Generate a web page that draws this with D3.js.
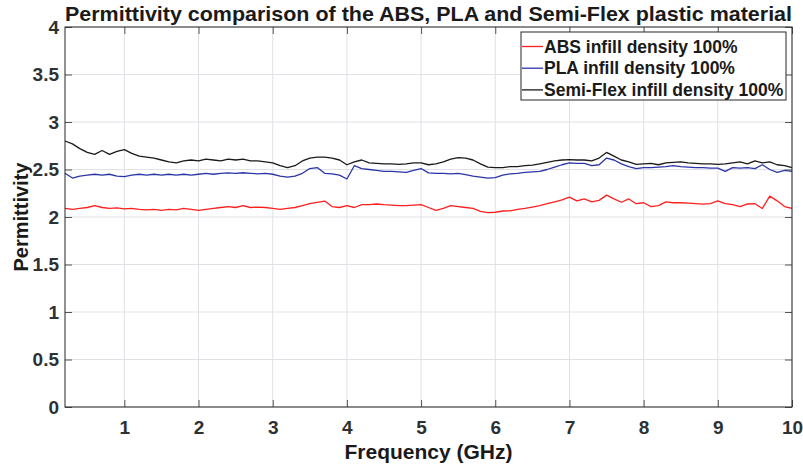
<!DOCTYPE html>
<html>
<head>
<meta charset="utf-8">
<script src="https://cdn.jsdelivr.net/npm/d3@7"></script>
<style>
  body { margin: 0; background: #fff; }
  text { font-family: "Liberation Sans", Arial, sans-serif; font-weight: bold; }
</style>
</head>
<body>
<svg id="chart_svg"></svg>
<script>
const width = 803, height = 467;
const margin = { top: 27, right: 11, bottom: 60, left: 65 };

// frequency samples (GHz), one every 0.1 GHz from 0.2 to 10
const freqs = d3.range(2, 101).map(d => d / 10);

const xTicks = [1, 2, 3, 4, 5, 6, 7, 8, 9, 10];
const yTicks = [0, 0.5, 1, 1.5, 2, 2.5, 3, 3.5, 4];

const seriesNames = ["ABS infill density 100%", "PLA infill density 100%", "Semi-Flex infill density 100%"];
const seriesColors = ["#ff1f1f", "#2b35a8", "#1a1a1a"];

const absValues = [
    2.09, 2.08, 2.09, 2.10, 2.12, 2.10, 2.09, 2.095, 2.085, 2.09,
    2.08, 2.075, 2.08, 2.07, 2.08, 2.075, 2.09, 2.08, 2.07, 2.08,
    2.09, 2.10, 2.11, 2.10, 2.12, 2.10, 2.105, 2.10, 2.09, 2.08,
    2.09, 2.10, 2.12, 2.14, 2.155, 2.168, 2.11, 2.10, 2.12, 2.10,
    2.13, 2.13, 2.137, 2.13, 2.125, 2.12, 2.12, 2.125, 2.13, 2.10,
    2.07, 2.09, 2.12, 2.11, 2.10, 2.09, 2.06, 2.045, 2.05, 2.063,
    2.065, 2.08, 2.09, 2.105, 2.12, 2.14, 2.16, 2.18, 2.21, 2.17,
    2.19, 2.16, 2.175, 2.23, 2.19, 2.155, 2.19, 2.14, 2.15, 2.11,
    2.12, 2.16, 2.15, 2.15, 2.145, 2.14, 2.135, 2.14, 2.17, 2.14,
    2.13, 2.11, 2.137, 2.14, 2.09, 2.22, 2.17, 2.11, 2.09
];

const plaValues = [
    2.46, 2.41, 2.43, 2.44, 2.45, 2.44, 2.45, 2.43, 2.425, 2.44,
    2.45, 2.44, 2.45, 2.44, 2.45, 2.44, 2.45, 2.44, 2.45, 2.46,
    2.45, 2.46, 2.465, 2.46, 2.466, 2.46, 2.455, 2.46, 2.45, 2.43,
    2.42, 2.43, 2.46, 2.51, 2.52, 2.46, 2.455, 2.44, 2.40, 2.54,
    2.51, 2.50, 2.49, 2.48, 2.48, 2.475, 2.47, 2.49, 2.51, 2.465,
    2.46, 2.46, 2.455, 2.46, 2.445, 2.43, 2.42, 2.41, 2.415, 2.44,
    2.455, 2.46, 2.47, 2.475, 2.48, 2.50, 2.525, 2.55, 2.57, 2.565,
    2.565, 2.54, 2.55, 2.62, 2.60, 2.56, 2.53, 2.51, 2.52, 2.52,
    2.525, 2.53, 2.54, 2.53, 2.525, 2.52, 2.52, 2.515, 2.515, 2.48,
    2.52, 2.515, 2.52, 2.51, 2.55, 2.50, 2.47, 2.49, 2.48
];

const semiFlexValues = [
    2.80, 2.77, 2.72, 2.68, 2.66, 2.70, 2.66, 2.69, 2.71, 2.67,
    2.64, 2.63, 2.62, 2.60, 2.58, 2.57, 2.59, 2.60, 2.59, 2.61,
    2.60, 2.59, 2.61, 2.60, 2.61, 2.59, 2.59, 2.58, 2.57, 2.54,
    2.52, 2.54, 2.59, 2.62, 2.63, 2.63, 2.62, 2.60, 2.55, 2.58,
    2.60, 2.57, 2.565, 2.56, 2.56, 2.555, 2.56, 2.57, 2.57, 2.55,
    2.56, 2.58, 2.61, 2.625, 2.62, 2.60, 2.56, 2.525, 2.52, 2.52,
    2.53, 2.53, 2.54, 2.545, 2.56, 2.575, 2.59, 2.60, 2.605, 2.60,
    2.60, 2.59, 2.62, 2.68, 2.64, 2.60, 2.58, 2.555, 2.56, 2.565,
    2.55, 2.57, 2.575, 2.58, 2.57, 2.565, 2.56, 2.56, 2.555, 2.56,
    2.57, 2.58, 2.56, 2.59, 2.57, 2.58, 2.55, 2.54, 2.52
];

const allSeries = [absValues, plaValues, semiFlexValues];

var svg = d3.select("#chart_svg").attr("width", width).attr("height", height);

var x = d3.scaleLinear().domain([0.2, 10]).range([margin.left, width - margin.right]);
var y = d3.scaleLinear().domain([0, 4]).range([height - margin.bottom, margin.top]);

var axisColor = "#262626";
var textColor = "#2e3133";

// grid
svg.append("g")
    .selectAll("line.vgrid")
    .data(xTicks)
    .enter().append("line")
    .attr("x1", d => x(d)).attr("x2", d => x(d))
    .attr("y1", y(0)).attr("y2", y(4))
    .attr("stroke", "#dfe1e6").attr("stroke-width", 1);
svg.append("g")
    .selectAll("line.hgrid")
    .data(yTicks)
    .enter().append("line")
    .attr("x1", x(0.2)).attr("x2", x(10))
    .attr("y1", d => y(d)).attr("y2", d => y(d))
    .attr("stroke", "#dfe1e6").attr("stroke-width", 1);

// lines
var line = d3.line()
    .x((d, i) => x(freqs[i]))
    .y(d => y(d));

svg.append("g")
    .selectAll("path.series")
    .data(allSeries)
    .enter().append("path")
    .attr("class", "series")
    .attr("d", line)
    .attr("fill", "none")
    .attr("stroke", (d, i) => seriesColors[i])
    .attr("stroke-width", 1.3)
    .attr("stroke-linejoin", "round");

// axes (ticks pointing inward, box on)
var tickLen = 7;
svg.append("g")
    .attr("transform", "translate(0," + y(0) + ")")
    .call(d3.axisBottom(x).tickValues(xTicks).tickSize(-tickLen).tickPadding(14).tickFormat(d3.format("d")))
    .call(g => g.select(".domain").remove());
svg.append("g")
    .attr("transform", "translate(0," + y(4) + ")")
    .call(d3.axisTop(x).tickValues(xTicks).tickSize(-tickLen).tickFormat(""))
    .call(g => g.select(".domain").remove());
svg.append("g")
    .attr("transform", "translate(" + x(0.2) + ",0)")
    .call(d3.axisLeft(y).tickValues(yTicks).tickSize(-tickLen).tickPadding(6).tickFormat(d3.format("")))
    .call(g => g.select(".domain").remove());
svg.append("g")
    .attr("transform", "translate(" + x(10) + ",0)")
    .call(d3.axisRight(y).tickValues(yTicks).tickSize(-tickLen).tickFormat(""))
    .call(g => g.select(".domain").remove());

svg.selectAll(".tick line").attr("stroke", "#555");
svg.selectAll(".tick text")
    .attr("fill", textColor)
    .style("font-size", "19px")
    .style("font-family", "'Liberation Sans', Arial, sans-serif")
    .style("font-weight", "bold");

svg.append("rect")
    .attr("x", x(0.2)).attr("y", y(4))
    .attr("width", x(10) - x(0.2)).attr("height", y(0) - y(4))
    .attr("fill", "none").attr("stroke", axisColor).attr("stroke-width", 1);

// title and labels
svg.append("text")
    .attr("x", (x(0.2) + x(10)) / 2)
    .attr("y", 21)
    .attr("text-anchor", "middle")
    .attr("textLength", 727)
    .attr("lengthAdjust", "spacingAndGlyphs")
    .style("font-size", "20.5px")
    .attr("fill", "#1a1a1a")
    .text("Permittivity comparison of the ABS, PLA and Semi-Flex plastic material");

svg.append("text")
    .attr("x", (x(0.2) + x(10)) / 2)
    .attr("y", 459)
    .attr("text-anchor", "middle")
    .style("font-size", "21px")
    .attr("fill", "#1a1a1a")
    .text("Frequency (GHz)");

svg.append("text")
    .attr("transform", "translate(28," + ((y(0) + y(4)) / 2) + ") rotate(-90)")
    .attr("text-anchor", "middle")
    .style("font-size", "20px")
    .attr("fill", "#1a1a1a")
    .text("Permittivity");

// legend
var legend = svg.append("g").attr("transform", "translate(521,32)");
legend.append("rect")
    .attr("width", 265).attr("height", 68)
    .attr("fill", "#fff").attr("stroke", axisColor).attr("stroke-width", 1);
var rows = legend.selectAll("g.row")
    .data(seriesNames)
    .enter().append("g")
    .attr("transform", (d, i) => "translate(0," + (14.5 + i * 21.7) + ")");
rows.append("line")
    .attr("x1", 1).attr("x2", 22)
    .attr("stroke", (d, i) => seriesColors[i])
    .attr("stroke-width", 1.3);
rows.append("text")
    .attr("x", 23)
    .attr("dy", "0.35em")
    .style("font-size", "17.5px")
    .attr("fill", "#1a1a1a")
    .text(d => d);
</script>
</body>
</html>
